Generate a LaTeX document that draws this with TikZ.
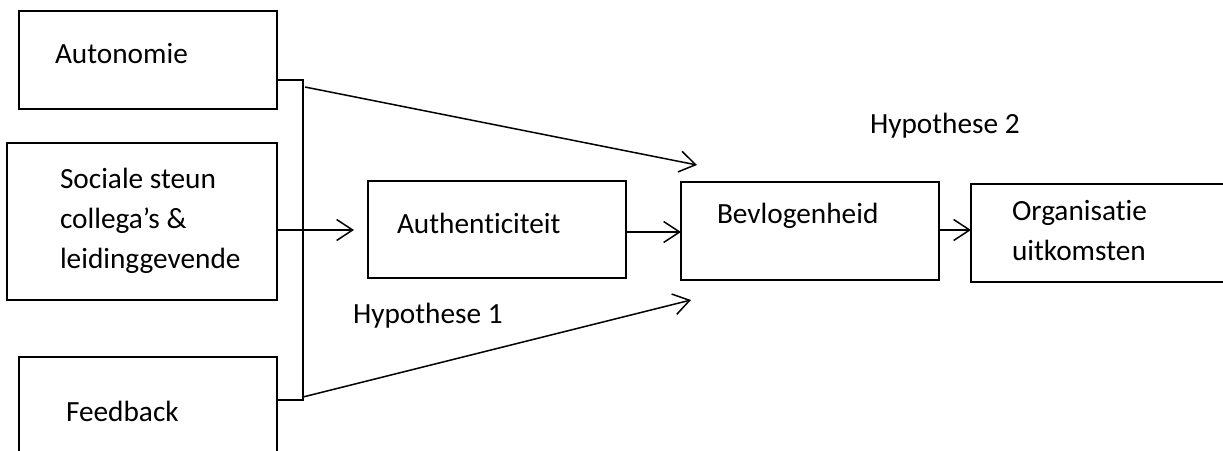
\documentclass[tikz,border=0pt]{standalone}
\usepackage{fontspec}
\setmainfont{Carlito}[Ligatures=NoCommon]
\usetikzlibrary{arrows.meta,calc}
\tikzset{
  box/.style={draw, line width=1.8pt, rectangle, anchor=north west, inner sep=0pt, outer sep=0pt},
  lbl/.style={anchor=base west, inner sep=0pt, outer sep=0pt, font=\fontsize{29.3}{40}\selectfont},
  arr/.style={line width=1.5pt, -{Straight Barb[length=16pt,width=21pt,line width=1.5pt]}},
  brk/.style={line width=2.4pt}
}
\begin{document}
\begin{tikzpicture}[x=1pt,y=-1pt]
\useasboundingbox (0,0) rectangle (1223,450);
\clip (0,0) rectangle (1223,450);
% boxes
\node[box, minimum width=258pt, minimum height=98pt] (auto) at (19,11) {};
\node[box, minimum width=270pt, minimum height=157pt] (soc) at (7,143) {};
\node[box, minimum width=258pt, minimum height=120pt] (feed) at (19,357) {};
\node[box, minimum width=258pt, minimum height=97pt] (auth) at (368,181) {};
\node[box, minimum width=258pt, minimum height=98pt] (bev) at (681,182) {};
\node[box, minimum width=262pt, minimum height=98pt] (org) at (971,184) {};
% texts
\node[lbl] (tauto) at (55,63) {Autonomie};
\node[lbl] (tsoc1) at (60,188) {Sociale steun};
\node[lbl] (tsoc2) at (60,228) {collega’s \&};
\node[lbl] (tsoc3) at (60,268) {leidinggevende};
\node[lbl] (tfeed) at (66,421) {Feedback};
\node[lbl] (tauth) at (397,233) {Authenticiteit};
\node[lbl] (tbev) at (717,223) {Bevlogenheid};
\node[lbl] (torg1) at (1012,220) {Organisatie};
\node[lbl] (torg2) at (1012,260) {uitkomsten};
\node[lbl] (th1) at (353,323) {Hypothese 1};
\node[lbl] (th2) at (870,133) {Hypothese 2};
% bracket
\coordinate (bt) at (303,80);
\coordinate (bm) at (303,230);
\coordinate (bb) at (303,400);
\draw[brk] (bt -| auto.east) -- (bt) -- (bb) -- (bb -| feed.east);
\draw[brk] (bm -| soc.east) -- (bm);
% arrows
\coordinate (topstart) at (305,87);
\coordinate (toptip) at (697,165);
\coordinate (botstart) at (303,397);
\coordinate (bottip) at (691,300);
\coordinate (midtip) at (354,230);
\draw[arr] (topstart) -- (toptip);
\draw[arr] (botstart) -- (bottip);
\draw[arr] (bm) -- (midtip);
\draw[arr] (auth.east |- 0,232) -- (bev.west |- 0,232);
\draw[arr, line width=2pt] (bev.east |- 0,230) -- (org.west |- 0,230);
\end{tikzpicture}
\end{document}
